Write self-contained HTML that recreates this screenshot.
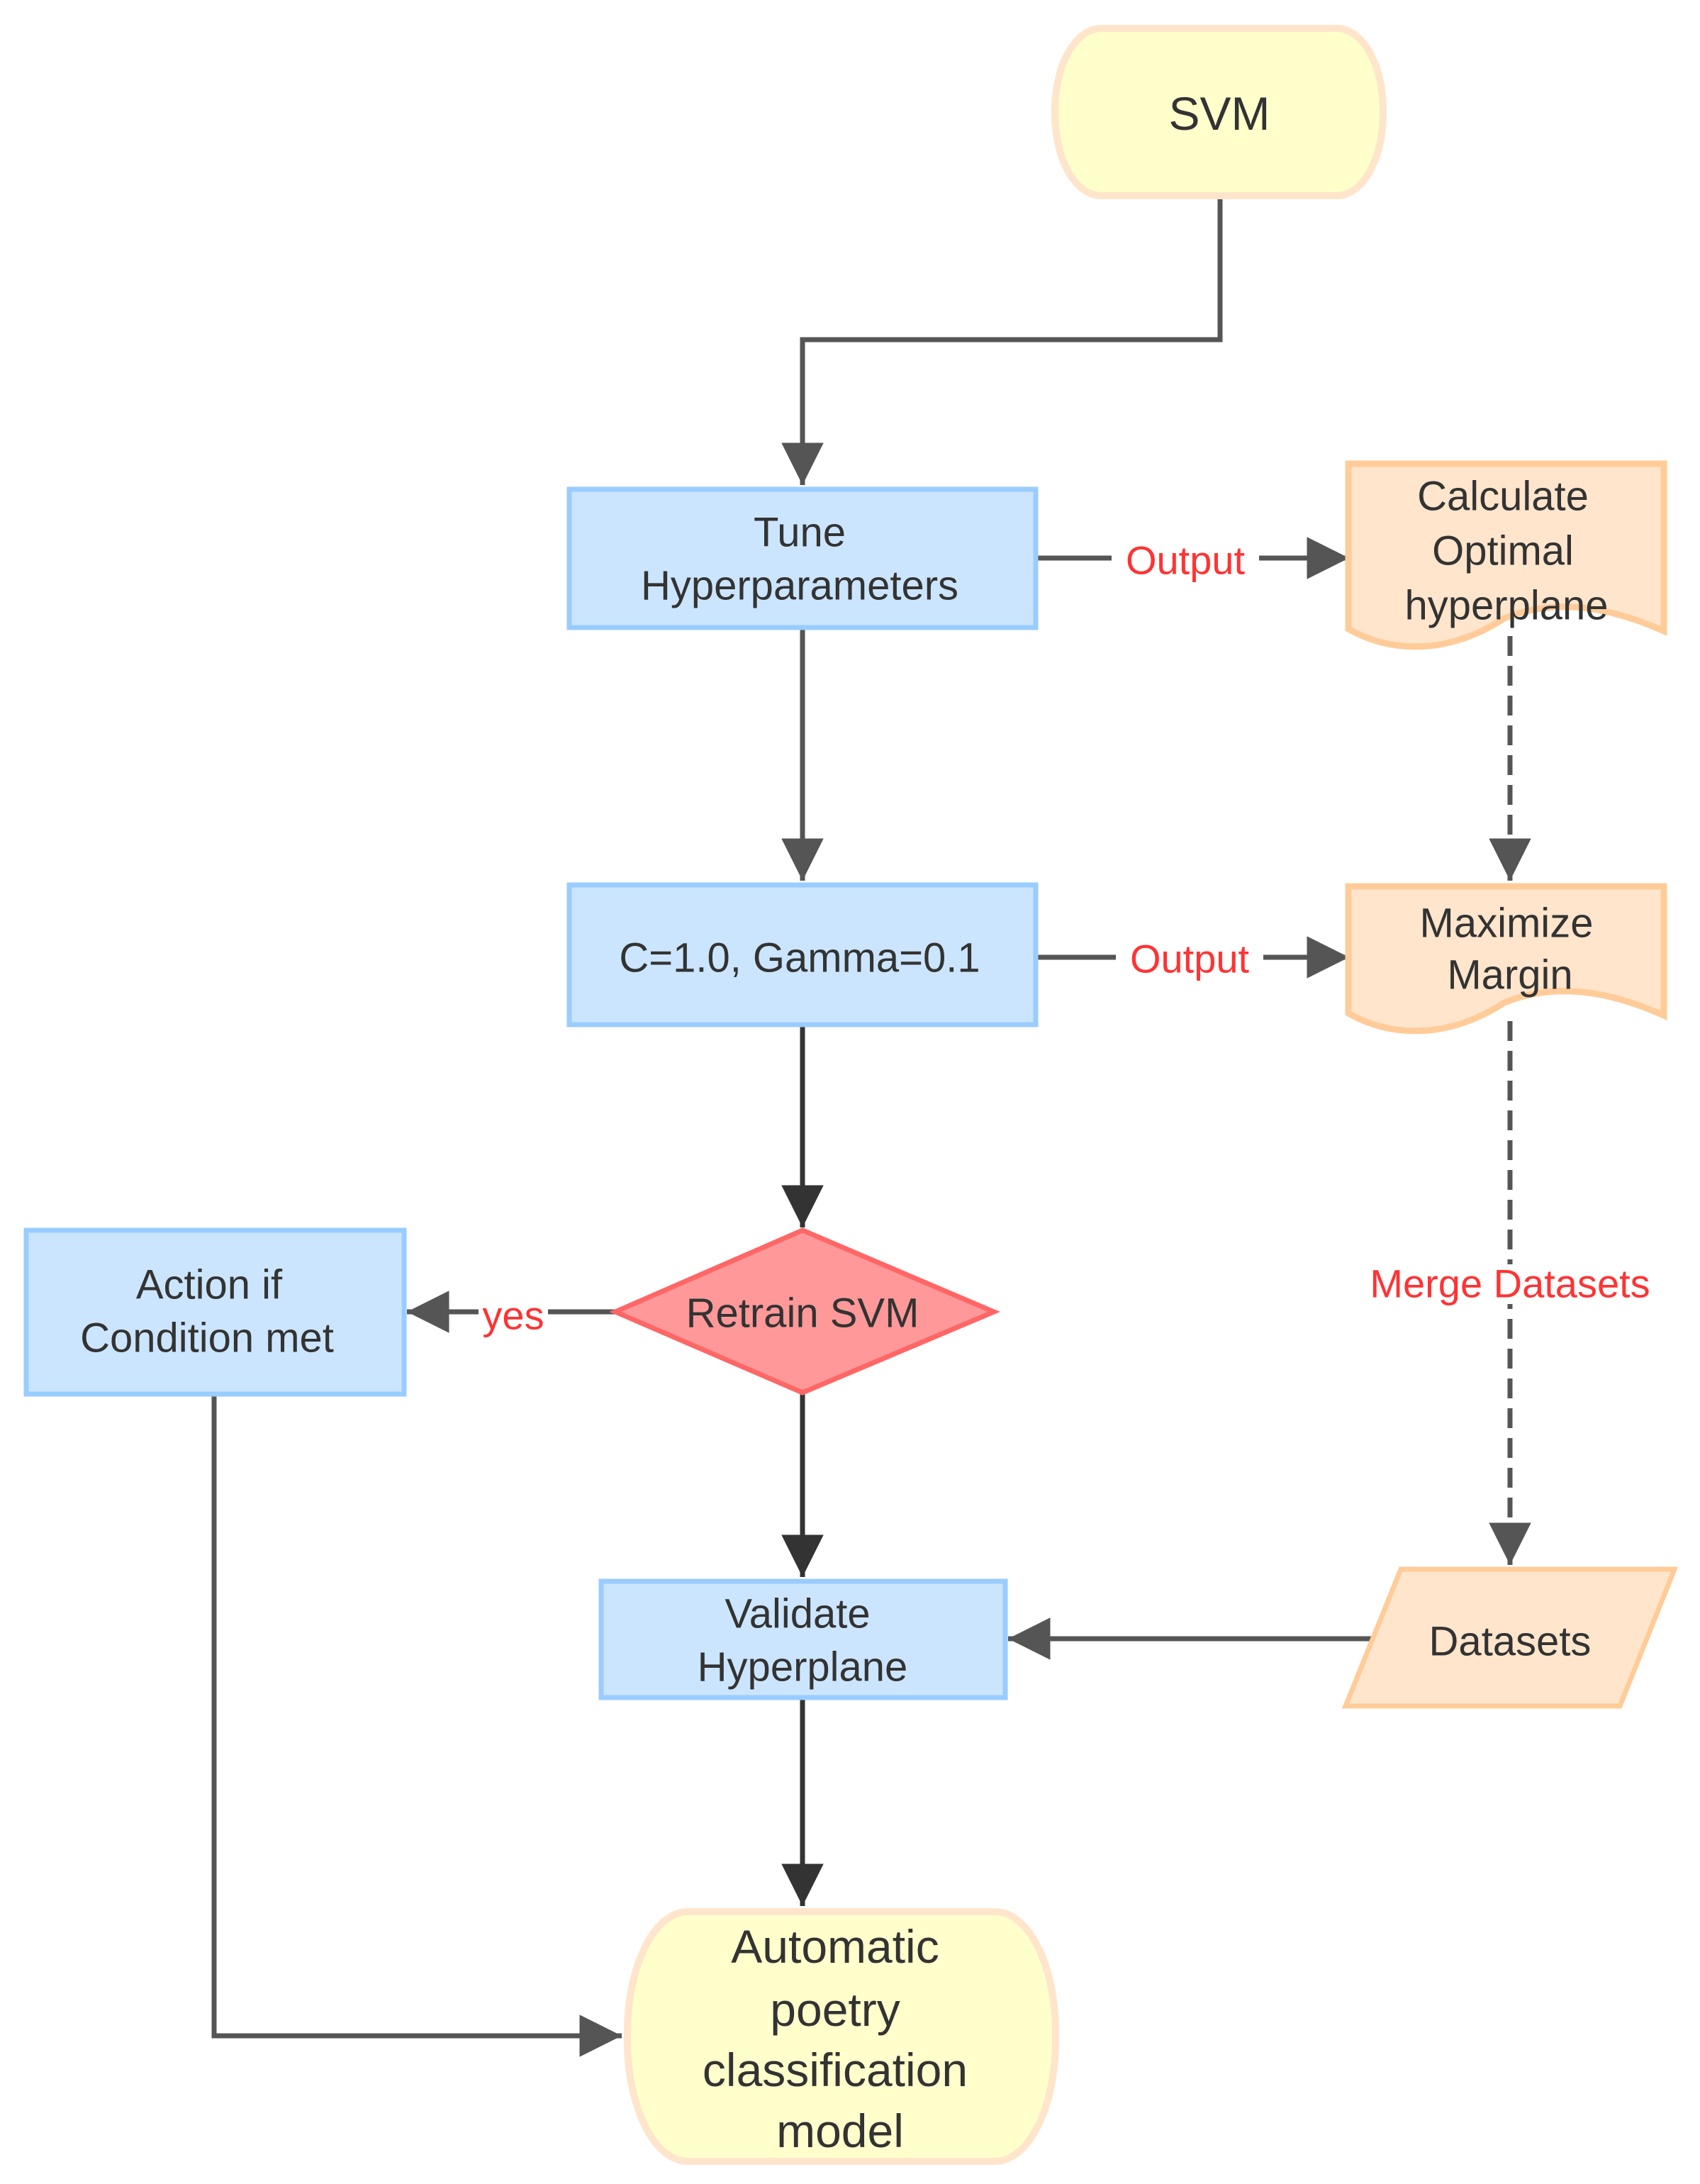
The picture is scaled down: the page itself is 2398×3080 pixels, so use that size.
<!DOCTYPE html>
<html><head><meta charset="utf-8"><style>html,body{margin:0;padding:0;background:#fff}svg{display:block}</style></head>
<body>
<svg width="2398" height="3080" viewBox="0 0 2398 3080" xmlns="http://www.w3.org/2000/svg" font-family="Liberation Sans, sans-serif">
<defs>
<marker id="a" viewBox="0 0 10 10" refX="10" refY="5" markerWidth="8.5" markerHeight="8.5" orient="auto"><path d="M0,0 L10,5 L0,10 z" fill="#555"/></marker>
<marker id="b" viewBox="0 0 10 10" refX="10" refY="5" markerWidth="8.5" markerHeight="8.5" orient="auto"><path d="M0,0 L10,5 L0,10 z" fill="#333"/></marker>
</defs>
<g fill="none" stroke-width="7">
<path d="M1721,280 V479 H1132 V684" stroke="#555" marker-end="url(#a)"/>
<path d="M1132,885 V1242" stroke="#555" marker-end="url(#a)"/>
<path d="M1132,1445 V1731" stroke="#333" marker-end="url(#b)"/>
<path d="M1132,1964 V2224" stroke="#333" marker-end="url(#b)"/>
<path d="M1132,2394 V2688" stroke="#333" marker-end="url(#b)"/>
<path d="M1461,787 H1903" stroke="#555" marker-end="url(#a)"/>
<path d="M1461,1350 H1903" stroke="#555" marker-end="url(#a)"/>
<path d="M2130,897 V1242" stroke="#555" stroke-dasharray="28,14" marker-end="url(#a)"/>
<path d="M2130,1440 V2207" stroke="#555" stroke-dasharray="28,14" marker-end="url(#a)"/>
<path d="M1935,2311 H1422" stroke="#555" marker-end="url(#a)"/>
<path d="M868,1850 H574" stroke="#555" marker-end="url(#a)"/>
<path d="M302,1966 V2871 H877" stroke="#555" marker-end="url(#a)"/>
</g>
<rect x="1488" y="40" width="463" height="236" rx="65" ry="115" fill="#ffffcc" stroke="#ffe5cc" stroke-width="10"/>
<rect x="803" y="690" width="658" height="195" fill="#cce5ff" stroke="#99ccff" stroke-width="7"/>
<rect x="803" y="1248" width="658" height="197" fill="#cce5ff" stroke="#99ccff" stroke-width="7"/>
<rect x="37" y="1735" width="533" height="231" fill="#cce5ff" stroke="#99ccff" stroke-width="7"/>
<rect x="848" y="2230" width="570" height="164" fill="#cce5ff" stroke="#99ccff" stroke-width="7"/>
<path d="M1902,654 H2347 V890 C2280,860 2200,840 2122,872 C2040,925 1960,920 1902,887 Z" fill="#ffe5cc" stroke="#ffcc99" stroke-width="9"/>
<path d="M1902,1250 H2347 V1432 C2280,1402 2200,1382 2122,1414 C2040,1467 1960,1462 1902,1429 Z" fill="#ffe5cc" stroke="#ffcc99" stroke-width="9"/>
<path d="M1132,1735 L1402,1850 L1132,1964 L868,1850 Z" fill="#ff9999" stroke="#ff6666" stroke-width="7"/>
<path d="M1976,2213 H2362 L2285,2406 H1898 Z" fill="#ffe5cc" stroke="#ffcc99" stroke-width="7"/>
<rect x="885" y="2696" width="604" height="352" rx="85" ry="170" fill="#ffffcc" stroke="#ffe5cc" stroke-width="10"/>
<rect x="1568" y="765" width="208" height="50" fill="#fff"/>
<rect x="1574" y="1327" width="208" height="50" fill="#fff"/>
<rect x="675" y="1826" width="98" height="50" fill="#fff"/>
<rect x="1910" y="1783" width="440" height="56" fill="#fff"/>
<g fill="#333" font-size="58" text-anchor="middle" dominant-baseline="central">
<text x="1720" y="160" font-size="66">SVM</text>
<text x="1128" y="751">Tune</text><text x="1128" y="826">Hyperparameters</text>
<text x="2120" y="700">Calculate</text><text x="2120" y="777">Optimal</text><text x="2125" y="854">hyperplane</text>
<text x="1128" y="1351">C=1.0, Gamma=0.1</text>
<text x="2125" y="1302">Maximize</text><text x="2130" y="1375">Margin</text>
<text x="1132" y="1852">Retrain SVM</text>
<text x="295" y="1812">Action if</text><text x="292" y="1887">Condition met</text>
<text x="1125" y="2276">Validate</text><text x="1132" y="2351">Hyperplane</text>
<text x="2130" y="2315">Datasets</text>
<g font-size="66"><text x="1178" y="2745">Automatic</text><text x="1178" y="2834">poetry</text><text x="1178" y="2919">classification</text><text x="1185" y="3005">model</text></g>
</g>
<g fill="#ff3333" font-size="56" text-anchor="middle" dominant-baseline="central">
<text x="1672" y="790">Output</text>
<text x="1678" y="1352">Output</text>
<text x="724" y="1855">yes</text>
<text x="2130" y="1810">Merge Datasets</text>
</g>
</svg>
</body></html>
